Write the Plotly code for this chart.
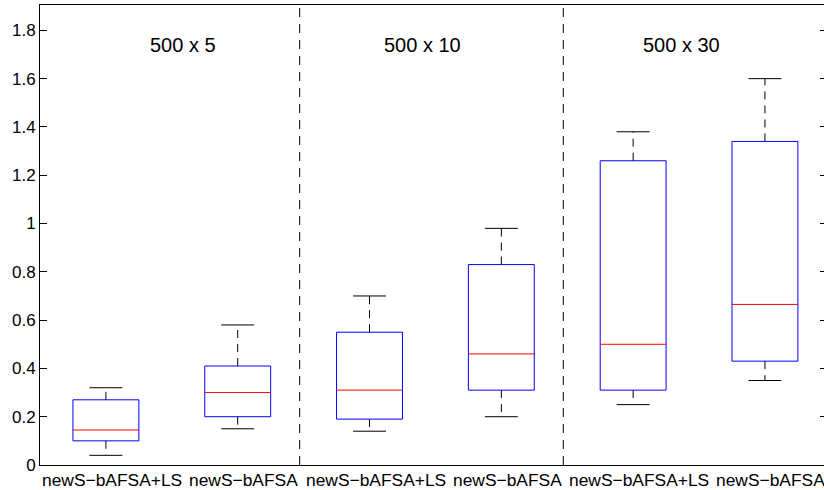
import plotly.graph_objects as go

# ---- data ----
categories = ["newS\u2212bAFSA+LS", "newS\u2212bAFSA",
              "newS\u2212bAFSA+LS", "newS\u2212bAFSA",
              "newS\u2212bAFSA+LS", "newS\u2212bAFSA"]
positions = [1, 2, 3, 4, 5, 6]
lower_whisker = [0.04, 0.15, 0.14, 0.20, 0.25, 0.35]
q1_values = [0.10, 0.20, 0.19, 0.31, 0.31, 0.43]
medians = [0.145, 0.30, 0.31, 0.46, 0.50, 0.665]
q3_values = [0.27, 0.41, 0.55, 0.83, 1.26, 1.34]
upper_whisker = [0.32, 0.58, 0.70, 0.98, 1.38, 1.60]
group_titles = ["500 x 5", "500 x 10", "500 x 30"]
group_title_x = [1.585, 3.405, 5.365]
separators = [2.47, 4.47]
y_ticks = [0, 0.2, 0.4, 0.6, 0.8, 1.0, 1.2, 1.4, 1.6, 1.8]
y_tick_text = ["0", "0.2", "0.4", "0.6", "0.8", "1", "1.2", "1.4", "1.6", "1.8"]

BOX_HALF = 0.25
CAP_HALF = 0.125
FONT = "Liberation Sans, Arial, Helvetica, sans-serif"

bx, by, mx, my, wx, wy, cx, cy = [], [], [], [], [], [], [], []
for p, lo, q1, md, q3, hi in zip(positions, lower_whisker, q1_values, medians, q3_values, upper_whisker):
    bx += [p - BOX_HALF, p + BOX_HALF, p + BOX_HALF, p - BOX_HALF, p - BOX_HALF, None]
    by += [q1, q1, q3, q3, q1, None]
    mx += [p - BOX_HALF, p + BOX_HALF, None]
    my += [md, md, None]
    wx += [p, p, None, p, p, None]
    wy += [q3, hi, None, q1, lo, None]
    cx += [p - CAP_HALF, p + CAP_HALF, None, p - CAP_HALF, p + CAP_HALF, None]
    cy += [hi, hi, None, lo, lo, None]

fig = go.Figure()
fig.add_trace(go.Scatter(x=wx, y=wy, mode="lines",
                         line=dict(color="#000000", width=1, dash="8px,6px"),
                         hoverinfo="skip", showlegend=False))
fig.add_trace(go.Scatter(x=cx, y=cy, mode="lines",
                         line=dict(color="#000000", width=1),
                         hoverinfo="skip", showlegend=False))
fig.add_trace(go.Scatter(x=bx, y=by, mode="lines",
                         line=dict(color="#0000FF", width=1),
                         hoverinfo="skip", showlegend=False))
fig.add_trace(go.Scatter(x=mx, y=my, mode="lines",
                         line=dict(color="#FF0000", width=1),
                         hoverinfo="skip", showlegend=False))
# invisible trace to show right-side ticks
fig.add_trace(go.Scatter(x=[positions[0]], y=[0], yaxis="y2", mode="markers",
                         marker=dict(opacity=0), hoverinfo="skip", showlegend=False))

for sx in separators:
    fig.add_shape(type="line", xref="x", yref="paper", x0=sx, x1=sx, y0=0, y1=1,
                  line=dict(color="#000000", width=1, dash="9px,7px"))

for t, tx in zip(group_titles, group_title_x):
    fig.add_annotation(x=tx, y=1.74, xref="x", yref="y", text=t, showarrow=False,
                       font=dict(family=FONT, size=20, color="#000000"),
                       xanchor="center", yanchor="middle")

# category labels under the axis (slightly right of box centres, as in the original)
for c, p in zip(categories, positions):
    fig.add_annotation(x=p, y=0, xref="x", yref="paper", text=c, showarrow=False,
                       font=dict(family=FONT, size=17.4, color="#000000"),
                       xanchor="center", yanchor="top", xshift=6, yshift=-3)

fig.update_layout(
    width=824, height=490,
    margin=dict(l=40, r=0, t=5, b=25),
    paper_bgcolor="white", plot_bgcolor="white",
    font=dict(family=FONT, size=17, color="#000000"),
    xaxis=dict(range=[0.5, 6.448], showticklabels=False,
               ticks="", showgrid=False, zeroline=False,
               showline=True, linecolor="#000000", linewidth=1, mirror=True),
    yaxis=dict(range=[0, 1.905], tickvals=y_ticks, ticktext=y_tick_text,
               ticks="inside", ticklen=7, tickcolor="#000000",
               showgrid=False, zeroline=False,
               showline=True, linecolor="#000000", linewidth=1,
               tickfont=dict(size=17)),
    yaxis2=dict(range=[0, 1.905], tickvals=y_ticks, overlaying="y", side="right",
                ticks="inside", ticklen=4, tickcolor="#000000",
                showticklabels=False, showgrid=False, zeroline=False, showline=False),
)

fig.write_html("out.html", config={"displayModeBar": False},
               post_script="document.body.style.margin='0';document.body.style.overflow='hidden';")
